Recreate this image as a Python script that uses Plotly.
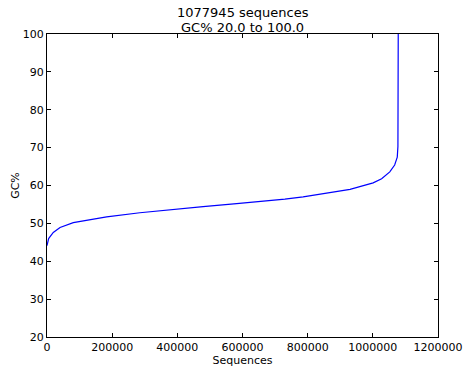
import plotly.graph_objects as go

# Sorted GC% curve
seq_index = [0, 5000, 19300, 40000, 80700, 132000, 183000, 285000, 387000,
             479000, 582000, 684000, 730000, 786000, 830000, 878000, 930000,
             960000, 1001000, 1027000, 1052000, 1067000, 1075000, 1077000,
             1077945, 1077945]
gc_values = [44.1, 46.0, 47.6, 48.9, 50.2, 51.0, 51.7, 52.8, 53.7,
             54.4, 55.2, 55.9, 56.4, 57.0, 57.6, 58.2, 59.0,
             59.7, 60.7, 61.8, 63.6, 65.4, 67.5, 70.3,
             80.0, 100.0]

title_lines = ["1077945 sequences", "GC% 20.0 to 100.0"]
x_ticks = [0, 200000, 400000, 600000, 800000, 1000000, 1200000]
y_ticks = [20, 30, 40, 50, 60, 70, 80, 90, 100]

fig = go.Figure()
fig.add_trace(go.Scatter(x=seq_index, y=gc_values, mode="lines",
                         line=dict(color="#0000ff", width=1.2),
                         showlegend=False, hoverinfo="skip"))

axis_common = dict(showline=True, linecolor="black", linewidth=1, mirror="ticks",
                   ticks="inside", ticklen=4, tickcolor="black", showgrid=False,
                   zeroline=False, automargin=False,
                   tickfont=dict(family="DejaVu Sans", size=11, color="black"))

fig.update_layout(
    width=463, height=368,
    margin=dict(l=47, r=25, t=34, b=31),
    paper_bgcolor="white", plot_bgcolor="white",
    font=dict(family="DejaVu Sans", color="black"),
    xaxis=dict(range=[0, 1200000], tickvals=x_ticks, ticktext=[str(v) for v in x_ticks],
               title=dict(text="Sequences", standoff=2, font=dict(size=11)), **axis_common),
    yaxis=dict(range=[20, 100], tickvals=y_ticks, ticktext=[str(v) for v in y_ticks],
               title=dict(text="GC%", standoff=0, font=dict(size=11)), **axis_common),
)

for line, shift in zip(title_lines, [22, 7]):
    fig.add_annotation(text=line, xref="paper", yref="paper", x=0.5, y=1,
                       xanchor="center", yanchor="middle", yshift=shift,
                       showarrow=False, font=dict(size=13, family="DejaVu Sans", color="black"))

fig.write_html("out.html", config={"displayModeBar": False, "staticPlot": True},
               post_script="document.body.style.margin='0';document.body.style.overflow='hidden';")
